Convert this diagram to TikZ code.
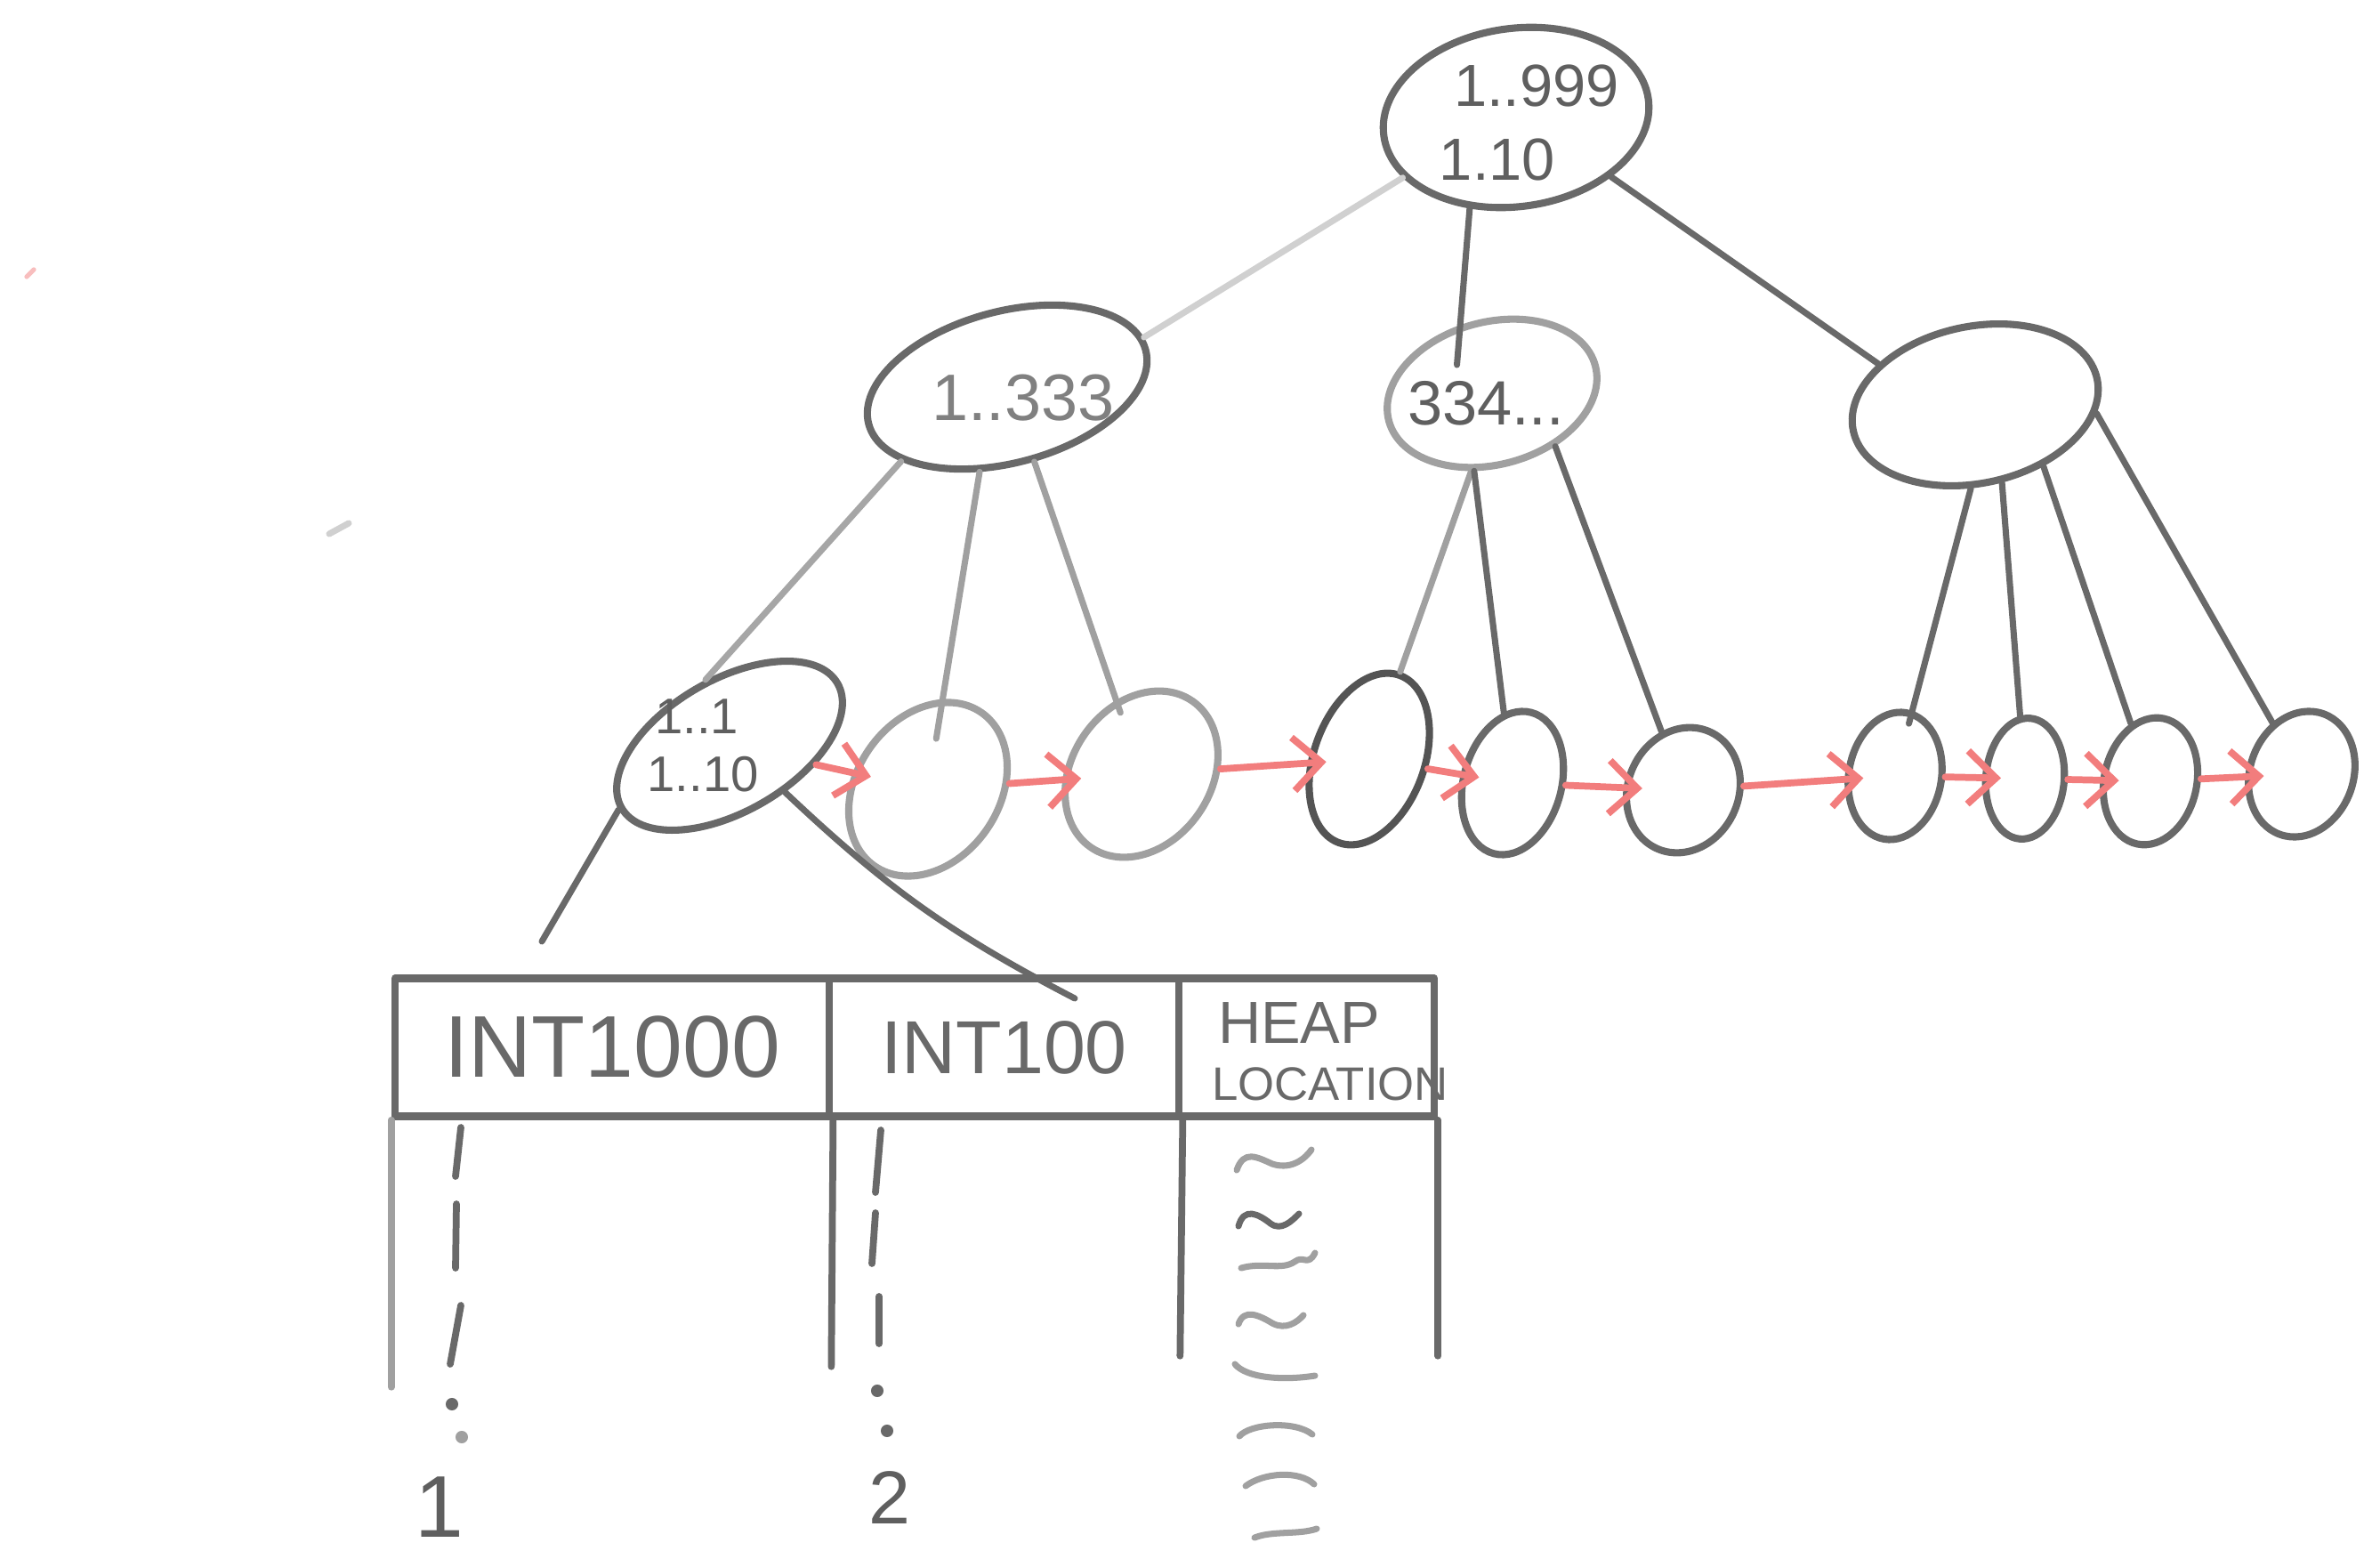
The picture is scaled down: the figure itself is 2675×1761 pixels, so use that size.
\documentclass[tikz,border=0pt]{standalone}
\usepackage{fontspec}
\setmainfont{Liberation Sans}
\usetikzlibrary{shapes.geometric,arrows.meta}

\definecolor{pencil}{RGB}{105,105,105}
\definecolor{softpencil}{RGB}{160,160,160}
\definecolor{faintpencil}{RGB}{208,208,208}
\definecolor{redpencil}{RGB}{242,125,125}

\begin{document}
\begin{tikzpicture}[line cap=round,line join=round,x=0.01cm,y=-0.01cm,
    blob/.style={ellipse, draw=pencil, line width=2.3pt, inner sep=0pt},
    edge/.style={draw=pencil, line width=2pt},
    link/.style={draw=redpencil, line width=2.2pt, shorten >=-6pt,
      -{Straight Barb[length=9pt,width=17pt]}},
    cell/.style={rectangle, draw=pencil, line width=2.4pt, minimum height=1.55cm, inner sep=0pt},
    hand/.style={text=pencil!90!black, inner sep=0pt},
    ditto/.style={draw=pencil, line width=2.2pt},
    squiggle/.style={draw=softpencil, line width=2pt}]

      \useasboundingbox (0,0) rectangle (2675,1761);

      % root
      \node[blob, minimum width=3.0cm, minimum height=2.0cm, rotate=8] (root) at (1704,132) {};
      \node[hand, font=\fontsize{19}{22}\selectfont] (rootkeys) at (1727,97) {1..999};
      \node[hand, font=\fontsize{19}{22}\selectfont] (rootcols) at (1683,180) {1.10};

      % second level
      \node[blob, minimum width=3.22cm, minimum height=1.7cm, rotate=15] (c1) at (1132,435) {};
      \node[hand, text=softpencil!80!black, font=\fontsize{21}{24}\selectfont] (c1keys) at (1150,447) {1..333};
      \node[blob, draw=softpencil, minimum width=2.4cm, minimum height=1.6cm, rotate=15] (c2) at (1677,442) {};
      \node[hand, font=\fontsize{20}{24}\selectfont] (c2keys) at (1670,453) {334...};
      \node[blob, minimum width=2.8cm, minimum height=1.76cm, rotate=12] (c3) at (2220,455) {};

      % leaves
      \node[blob, minimum width=2.8cm, minimum height=1.48cm, rotate=30] (l1) at (820,838) {};
      \node[hand, font=\fontsize{16}{18}\selectfont] (l1keys) at (783,805) {1..1};
      \node[hand, font=\fontsize{16}{18}\selectfont] (l1cols) at (790,870) {1..10};
      \node[blob, draw=softpencil, minimum width=2.1cm, minimum height=1.6cm, rotate=55] (l2) at (1043,887) {};
      \node[blob, draw=softpencil, minimum width=2.0cm, minimum height=1.56cm, rotate=55] (l3) at (1283,870) {};
      \node[blob, draw=pencil!80!black, minimum width=2.0cm, minimum height=1.24cm, rotate=70] (l4) at (1539,853) {};
      \node[blob, minimum width=1.64cm, minimum height=1.1cm, rotate=75] (l5) at (1700,880) {};
      \node[blob, minimum width=1.44cm, minimum height=1.24cm, rotate=65] (l6) at (1892,888) {};
      \node[blob, minimum width=1.44cm, minimum height=1.04cm, rotate=80] (l7) at (2130,872) {};
      \node[blob, minimum width=1.36cm, minimum height=0.88cm, rotate=85] (l8) at (2276,875) {};
      \node[blob, minimum width=1.44cm, minimum height=1.04cm, rotate=78] (l9) at (2417,878) {};
      \node[blob, minimum width=1.44cm, minimum height=1.16cm, rotate=70] (l10) at (2587,870) {};

      % tree edges
      \draw[edge, draw=faintpencil] (root.200) -- (c1.5);
      \draw[edge, shorten >=-0.45cm] (root.235) -- (c2.100);
      \draw[edge] (root.320) -- (c3.145);

      \draw[edge, draw=faintpencil!80!black] (c1.200) -- (l1.80);
      \draw[edge, draw=softpencil, shorten >=-0.45cm] (c1.237) -- (l2);
      \draw[edge, draw=softpencil, shorten >=-0.15cm] (c1.275) -- (l3);

      \draw[edge, draw=softpencil] (c2.240) -- (l4);
      \draw[edge] (c2.242) -- (l5);
      \draw[edge] (c2.305) -- (l6);

      \draw[edge, shorten >=-0.15cm] (c3.255) -- (l7);
      \draw[edge] (c3.277) -- (l8);
      \draw[edge] (c3.306) -- (l9);
      \draw[edge] (c3.344) -- (l10);

      % leaf links
      \draw[link] (l1) -- (l2);
      \draw[link] (l2) -- (l3);
      \draw[link] (l3) -- (l4);
      \draw[link] (l4) -- (l5);
      \draw[link] (l5) -- (l6);
      \draw[link] (l6) -- (l7);
      \draw[link] (l7) -- (l8);
      \draw[link] (l8) -- (l9);
      \draw[link] (l9) -- (l10);

      % table header
      \node[cell, minimum width=4.88cm, font=\fontsize{28}{30}\selectfont, text=pencil] (int1000) at (688,1177) {INT1000};
      \node[cell, minimum width=3.93cm, font=\fontsize{24}{26}\selectfont, text=pencil] (int100) at (1128.5,1177) {INT100};
      \node[cell, minimum width=2.87cm] (heap) at (1468.5,1177) {};
      \node[hand, text=pencil, font=\fontsize{19}{22}\selectfont] (heaptop) at (1460,1150) {HEAP};
      \node[hand, text=pencil, font=\fontsize{15}{18}\selectfont] (heapbottom) at (1495,1218) {LOCATION};

      % leaf to table
      \coordinate (tabtop) at (609,1058);
      \coordinate (tabin) at (1208,1122);
      \draw[edge] (l1.west) -- (tabtop);
      \draw[edge] (l1.290) to[bend right=8] (tabin);

      % table body
      \draw[ditto, draw=softpencil] (int1000.south west) -- ++(0,300);
      \draw[ditto] (int1000.south east) -- ++(-2,277);
      \draw[ditto] (int100.south east) -- ++(-3,265);
      \draw[ditto] (heap.south east) -- ++(0,265);

      % INT1000 column
      \draw[ditto] (518,1267) -- (512,1322);
      \draw[ditto] (513,1353) -- (512,1425);
      \draw[ditto] (518,1467) -- (506,1533);
      \fill[pencil] (508,1578) circle (2pt);
      \fill[softpencil] (519,1615) circle (2pt);
      \node[hand, font=\fontsize{28}{30}\selectfont] (one) at (494,1694) {1};

      % INT100 column
      \draw[ditto] (990,1270) -- (984,1340);
      \draw[ditto] (984,1363) -- (980,1420);
      \draw[ditto] (988,1457) -- (988,1510);
      \fill[pencil] (986,1563) circle (2pt);
      \fill[pencil] (997,1608) circle (2pt);
      \node[hand, font=\fontsize{24}{26}\selectfont] (two) at (1000,1683) {2};

      % heap locations
      \draw[squiggle] (1390,1315) .. controls (1398,1292) and (1412,1300) .. (1430,1308) .. controls (1448,1314) and (1464,1306) .. (1474,1292);
      \draw[squiggle, draw=pencil] (1392,1378) .. controls (1398,1356) and (1414,1364) .. (1428,1375) .. controls (1440,1384) and (1452,1372) .. (1460,1364);
      \draw[squiggle] (1395,1425) .. controls (1420,1418) and (1440,1428) .. (1455,1418) .. controls (1465,1410) and (1470,1424) .. (1478,1408);
      \draw[squiggle] (1392,1488) .. controls (1398,1470) and (1415,1478) .. (1430,1487) .. controls (1445,1495) and (1458,1486) .. (1465,1478);
      \draw[squiggle] (1388,1533) .. controls (1400,1548) and (1440,1552) .. (1478,1546);
      \draw[squiggle] (1393,1614) .. controls (1405,1600) and (1455,1596) .. (1475,1612);
      \draw[squiggle] (1400,1670) .. controls (1420,1655) and (1460,1652) .. (1477,1668);
      \draw[squiggle] (1410,1728) .. controls (1430,1720) and (1460,1725) .. (1480,1718);

      % stray marks
      \draw[draw=redpencil!50, line width=1.5pt] (30,311) -- (38,303);
      \draw[draw=faintpencil, line width=2pt] (370,600) -- (392,588);

    \end{tikzpicture}
\end{document}
